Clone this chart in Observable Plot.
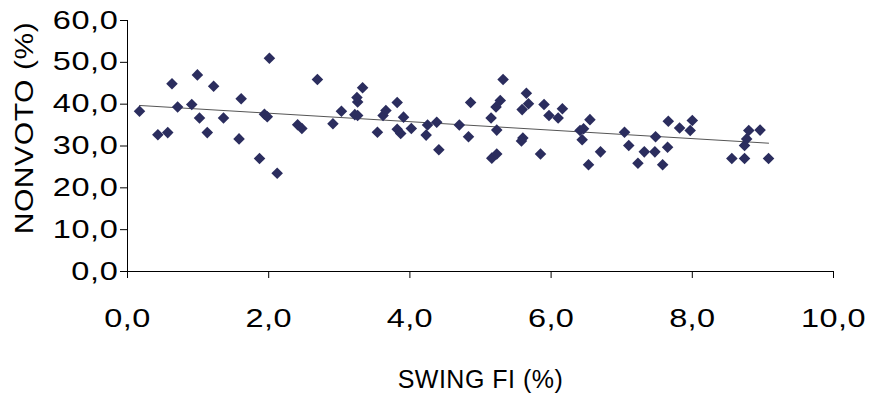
<!DOCTYPE html>
<html>
<head>
<meta charset="utf-8">
<script src="https://cdn.jsdelivr.net/npm/d3@7"></script>
<script src="https://cdn.jsdelivr.net/npm/@observablehq/plot@0.6"></script>
<style>
  html, body { margin: 0; padding: 0; background: #fff; }
  #chart svg { display: block; }
</style>
</head>
<body>
<div id="chart"></div>
<script>
const swing = [0.17,0.43,0.57,0.63,0.71,0.91,0.99,1.02,1.13,1.22,1.36,1.58,1.61,1.87,1.94,1.98,2.01,2.12,2.41,2.47,2.69,2.91,3.03,3.22,3.26,3.26,3.25,3.33,3.54,3.62,3.66,3.82,3.82,3.87,3.91,4.02,4.23,4.25,4.38,4.41,4.70,4.83,4.86,5.15,5.16,5.22,5.23,5.23,5.28,5.32,5.59,5.60,5.58,5.65,5.68,5.85,5.90,5.97,6.10,6.16,6.41,6.44,6.46,6.53,6.55,6.70,7.04,7.10,7.23,7.32,7.47,7.48,7.58,7.65,7.66,7.82,7.97,8.00,8.56,8.74,8.74,8.77,8.80,8.96,9.08];
const nonvoto = [38.3,32.7,33.2,44.9,39.3,39.9,47.0,36.7,33.2,44.3,36.7,31.7,41.3,27.0,37.6,37.0,51.0,23.5,35.1,34.2,45.9,35.3,38.3,37.5,37.3,40.5,41.6,43.9,33.3,37.3,38.5,40.4,34.0,33.0,36.9,34.2,32.6,35.0,35.7,29.1,35.0,32.2,40.4,36.7,27.1,39.3,33.8,28.1,40.9,45.9,38.7,31.9,31.2,42.6,40.1,28.1,39.9,37.3,36.7,38.9,33.7,31.5,34.1,25.5,36.3,28.6,33.3,30.1,25.9,28.6,28.6,32.2,25.5,29.7,35.9,34.3,33.7,36.1,27.0,27.0,30.1,31.7,33.7,33.8,27.0];
const xTicks = [0, 2, 4, 6, 8, 10];
const yTicks = [0, 10, 20, 30, 40, 50, 60];
const xLabel = "SWING FI (%)";
const yLabel = "NONVOTO (%)";

const data = swing.map((s, i) => ({swing: s, nonvoto: nonvoto[i]}));
const fmt = d => d.toFixed(1).replace(".", ",");
const font = "'Liberation Sans', Arial, sans-serif";

const chart = Plot.plot({
  width: 876,
  height: 393,
  marginLeft: 127,
  marginRight: 43,
  marginTop: 20,
  marginBottom: 122,
  style: {fontFamily: font, background: "#fff", color: "#000"},
  x: {domain: [0, 10]},
  y: {domain: [0, 60]},
  marks: [
    Plot.axisX({ticks: xTicks, tickFormat: fmt, tickSize: 7, tickPadding: 31, fontSize: 25,
      label: null, stroke: "#000"}),
    Plot.axisY({ticks: yTicks, tickFormat: fmt, tickSize: 7, tickPadding: 2, fontSize: 25,
      label: null, stroke: "#000"}),
    Plot.ruleX([0], {stroke: "#000"}),
    Plot.ruleY([0], {stroke: "#000"}),
    Plot.text([xLabel], {frameAnchor: "bottom", text: d => d, dy: 108, lineAnchor: "middle",
      fontSize: 25, fill: "#000"}),
    Plot.text([yLabel], {frameAnchor: "left", text: d => d, dx: -103, dy: -18, rotate: -90,
      lineAnchor: "middle", textAnchor: "middle", fontSize: 25, fill: "#000"}),
    Plot.linearRegressionY(data, {x: "swing", y: "nonvoto", ci: 0, stroke: "#555", strokeWidth: 1}),
    Plot.dot(data, {x: "swing", y: "nonvoto", symbol: "diamond2", r: 5.2, fill: "#2b2d5e", stroke: "none"})
  ]
});
function stretch(sel, sx, spacing) {
  sel.each(function() {
    const t = d3.select(this);
    let tr = t.attr("transform");
    if (!tr) {
      const x = +t.attr("x") || 0, y = +t.attr("y") || 0;
      t.attr("x", null).attr("y", null);
      tr = `translate(${x},${y})`;
    }
    t.attr("transform", `${tr} scale(${sx},1)`).style("letter-spacing", spacing);
  });
}
stretch(d3.select(chart).selectAll('g[aria-label="y-axis tick label"] text'), 1.3, "0.5px");
stretch(d3.select(chart).selectAll('g[aria-label="x-axis tick label"] text'), 1.3, "0.3px");
stretch(d3.select(chart).selectAll('g[aria-label="text"] text').filter(function() { return this.textContent === yLabel; }), 1.2, "0.5px");
d3.select(chart).selectAll('g[aria-label="text"] text').filter(function() { return this.textContent === xLabel; }).style("letter-spacing", "0.5px");
document.getElementById("chart").appendChild(chart);
</script>
</body>
</html>
